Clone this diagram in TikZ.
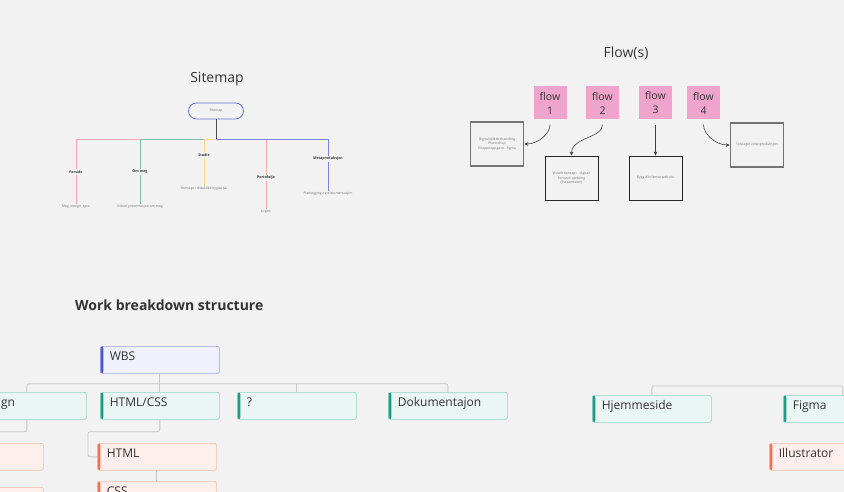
\documentclass[tikz,border=0pt]{standalone}
\usepackage{fontspec}
\setmainfont{Open Sans}
\usetikzlibrary{positioning, arrows.meta}

\definecolor{canvas}{HTML}{F2F2F2}
\definecolor{ink}{HTML}{333333}
\definecolor{stickypink}{HTML}{EFA4CB}
\definecolor{mapblue}{HTML}{6A6FDB}
\definecolor{mappink}{HTML}{F2A7B6}
\definecolor{mapgreen}{HTML}{7FBFA5}
\definecolor{mapyellow}{HTML}{F5DB7C}
\definecolor{mapsalmon}{HTML}{F3AC9B}
\definecolor{mappurple}{HTML}{7E82DF}
\definecolor{wbsfill}{HTML}{EEF0FB}
\definecolor{wbsdraw}{HTML}{9DA3E6}
\definecolor{wbsbar}{HTML}{4A55C6}
\definecolor{lvlfill}{HTML}{EAF6F3}
\definecolor{lvldraw}{HTML}{95D3C3}
\definecolor{lvlbar}{HTML}{1E9E80}
\definecolor{subfill}{HTML}{FDF0EC}
\definecolor{subdraw}{HTML}{F5BBA9}
\definecolor{subbar}{HTML}{F07350}

\tikzset{
  title/.style={font=\fontsize{14}{16}\selectfont, text=ink, inner sep=0pt},
  tinytext/.style={font=\fontsize{3.4}{4.3}\selectfont, text=black!55, inner sep=1pt, align=center},
  pagehead/.style={tinytext, font=\fontsize{3.6}{4.3}\selectfont\bfseries, text=black!80, fill=canvas},
  branch/.style={line width=0.9pt},
  sticky/.style={fill=stickypink, minimum width=33pt, minimum height=33pt, inner sep=0pt,
    align=center, font=\fontsize{10.5}{14}\selectfont, text=ink},
  flowbox/.style={draw=black!85, line width=0.7pt, minimum width=53pt, minimum height=44pt,
    inner sep=1pt, align=center, font=\fontsize{3.4}{4.3}\selectfont, text=black!55},
  flowboxthick/.style={flowbox, draw=black!55, line width=1.6pt},
  arr/.style={-{Stealth[length=4pt,width=3.5pt]}, draw=black!75, line width=0.6pt, shorten <=5pt},
  task/.style n args={3}{anchor=north west, fill=#1, draw=#2, line width=0.7pt, rounded corners=2pt,
    minimum width=119pt, minimum height=27pt, text width=100pt, inner xsep=9.5pt, inner ysep=0pt,
    text height=14.5pt, text depth=12.5pt, align=left,
    font=\fontsize{12}{14}\selectfont, text=ink,
    path picture={\fill[#3] (path picture bounding box.north west) rectangle
      ([xshift=3pt]path picture bounding box.south west);}},
  topbox/.style={task={wbsfill}{wbsdraw}{wbsbar}},
  lvlbox/.style={task={lvlfill}{lvldraw}{lvlbar}},
  subbox/.style={task={subfill}{subdraw}{subbar}},
  wbsline/.style={draw=black!22, line width=0.8pt, rounded corners=2pt}
}

\begin{document}
\begin{tikzpicture}[x=1pt, y=-1pt]
  \fill[canvas] (0,0) rectangle (844,492);
  \useasboundingbox (0,0) rectangle (844,492);
  \clip (0,0) rectangle (844,492);

  \node[title] (maptitle) at (217,79) {Sitemap};
  \node[title] (flowtitle) at (626,53) {Flow(s)};
  \node[title, font=\fontsize{14}{16}\selectfont\bfseries, anchor=west] (wbstitle) at (75,305) {Work breakdown structure};

  \node[draw=mapblue, line width=0.8pt, rounded corners=8pt, minimum width=55pt, minimum height=16pt,
    tinytext] (root) at (216,111) {Sitemap};
  \coordinate (hub) at (216,139);

  \node[pagehead] (forside) at (76,172) {Forside};
  \node[pagehead] (ommeg) at (140,172) {Om meg};
  \node[pagehead] (studie) at (204,155) {Studie};
  \node[pagehead] (portfolio) at (266,178) {Portefølje};
  \node[pagehead] (metaprod) at (328,159) {Metaproduksjon};

  \node[tinytext] (forsideC) at (76,207) {Meg, design, typo};
  \node[tinytext] (ommegC) at (140,207) {Video/ presentasjon om meg};
  \node[tinytext] (studieC) at (204,189) {Konsept / didaktikk bygde på};
  \node[tinytext] (portfolioC) at (266,212) {Logikk};
  \node[tinytext] (metaprodC) at (328,194) {Planlegging og dokumentasjon};

  \draw[branch, mappink] (hub) -| (forside);
  \draw[branch, mapgreen] (hub) -| (ommeg);
  \draw[branch, mapyellow] (hub) -| (studie);
  \draw[branch, mapsalmon] (hub) -| (portfolio);
  \draw[branch, mappurple] (hub) -| (metaprod);
  \draw[branch, black!70] (root) -- (hub);
  \draw[branch, mappink] (forside) -- (forsideC);
  \draw[branch, mapgreen] (ommeg) -- (ommegC);
  \draw[branch, mapyellow] (studie) -- (studieC);
  \draw[branch, mapsalmon] (portfolio) -- (portfolioC);
  \draw[branch, mappurple] (metaprod) -- (metaprodC);
  \node[pagehead] at (forside) {Forside};
  \node[pagehead] at (ommeg) {Om meg};
  \node[pagehead] at (studie) {Studie};
  \node[pagehead] at (portfolio) {Portefølje};
  \node[pagehead] at (metaprod) {Metaproduksjon};

  \node[sticky] (flow1) at (550,103) {flow\\1};
  \node[sticky] (flow2) at (602.5,103) {flow\\2};
  \node[sticky] (flow3) at (655.5,103) {flow\\3};
  \node[sticky] (flow4) at (703.5,103) {flow\\4};

  \node[flowboxthick] (bilde) at (497,144) {Digital bildebehandling\\Photoshop\\Gruppeoppgave - figma};
  \node[flowbox] (konsept) at (571.5,178) {Visuelt konsept - digitalt\\Konsept utvikling\\(fra samtalen)};
  \node[flowbox] (nettside) at (655.5,178) {Bygg ditt første website};
  \node[flowboxthick] (video) at (757,145) {Selvlaget videoproduksjon};

  \draw[arr] (flow1.south) to[out=-90, in=0] (bilde.east);
  \draw[arr] (flow2.south) to[out=-90, in=90] (konsept.north);
  \draw[arr] (flow3.south) -- (nettside.north);
  \draw[arr] (flow4.south) to[out=-90, in=180] (video.west);

  \node[topbox] (wbs) at (100,346) {WBS};
  \node[lvlbox] (design) at (-33,392) {Design};
  \node[lvlbox] (htmlcss) at (100,392) {HTML/CSS};
  \node[lvlbox] (unknown) at (237,392) {?};
  \node[lvlbox] (docs) at (388,392) {Dokumentajon};
  \node[subbox] (designA) at (-76,443) {};
  \node[subbox] (designB) at (-76,487) {};
  \node[subbox] (html) at (97,443) {HTML};
  \node[subbox] (css) at (97,481) {CSS};

  \draw[wbsline] (wbs.south) -- ++(0,10) coordinate (bus);
  \draw[wbsline] (design.north) |- (bus) -| (docs.north);
  \draw[wbsline] (htmlcss.north) -- (htmlcss.north |- bus);
  \draw[wbsline] (unknown.north) -- (unknown.north |- bus);
  \draw[wbsline] (design.south) -- ++(0,12) -| ([xshift=-9pt]designA.west) -- (designA.west);
  \draw[wbsline] (designA.south) -- (designB.north);
  \draw[wbsline] (htmlcss.south) -- ++(0,12) -| ([xshift=-9pt]html.west) -- (html.west);
  \draw[wbsline] (html.south) -- (css.north);

  \node[lvlbox] (hjem) at (592,395) {Hjemmeside};
  \node[lvlbox] (figma) at (783,395) {Figma};
  \node[subbox] (illustrator) at (769,443) {Illustrator};
  \draw[wbsline] (hjem.north) -- ++(0,-9) -| (figma.north);
\end{tikzpicture}
\end{document}
